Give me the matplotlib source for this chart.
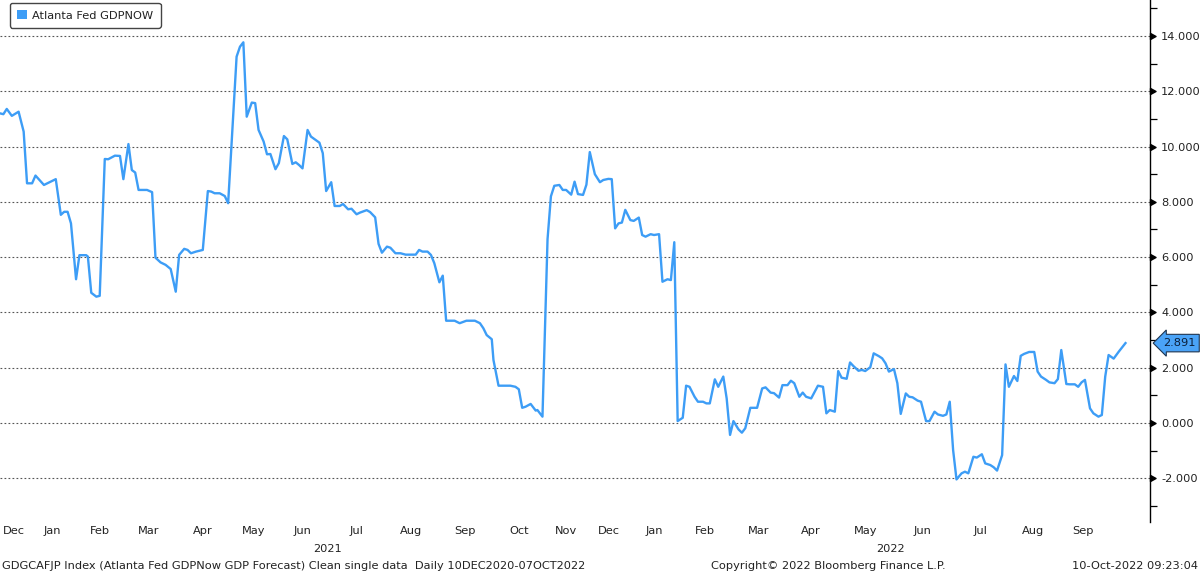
import matplotlib
matplotlib.use("Agg")
import matplotlib.pyplot as plt
import matplotlib.transforms as mtrans
from matplotlib.patches import Patch
from matplotlib.path import Path
from matplotlib.ticker import MultipleLocator, FuncFormatter
import pandas as pd

# ---------------- data ----------------
dates = [
    "2020-12-10", "2020-12-12", "2020-12-14", "2020-12-17", "2020-12-21", "2020-12-24",
    "2020-12-26", "2020-12-29", "2020-12-31", "2021-01-05", "2021-01-09", "2021-01-12",
    "2021-01-15", "2021-01-17", "2021-01-19", "2021-01-21", "2021-01-24", "2021-01-26",
    "2021-01-30", "2021-01-31", "2021-02-02", "2021-02-05", "2021-02-07", "2021-02-10",
    "2021-02-12", "2021-02-16", "2021-02-19", "2021-02-21", "2021-02-24", "2021-02-26",
    "2021-02-28", "2021-03-02", "2021-03-07", "2021-03-10", "2021-03-12", "2021-03-15",
    "2021-03-18", "2021-03-21", "2021-03-24", "2021-03-26", "2021-03-29", "2021-03-31",
    "2021-04-02", "2021-04-05", "2021-04-09", "2021-04-12", "2021-04-14", "2021-04-16",
    "2021-04-19", "2021-04-22", "2021-04-24", "2021-04-29", "2021-05-01", "2021-05-03",
    "2021-05-05", "2021-05-08", "2021-05-10", "2021-05-12", "2021-05-15", "2021-05-17",
    "2021-05-19", "2021-05-22", "2021-05-24", "2021-05-27", "2021-05-29", "2021-06-01",
    "2021-06-03", "2021-06-05", "2021-06-07", "2021-06-10", "2021-06-12", "2021-06-17",
    "2021-06-19", "2021-06-21", "2021-06-24", "2021-06-26", "2021-06-29", "2021-07-01",
    "2021-07-04", "2021-07-06", "2021-07-09", "2021-07-11", "2021-07-15", "2021-07-17",
    "2021-07-20", "2021-07-22", "2021-07-24", "2021-07-27", "2021-07-29", "2021-08-01",
    "2021-08-04", "2021-08-07", "2021-08-13", "2021-08-15", "2021-08-17", "2021-08-20",
    "2021-08-22", "2021-08-24", "2021-08-27", "2021-08-29", "2021-08-31", "2021-09-05",
    "2021-09-08", "2021-09-12", "2021-09-17", "2021-09-20", "2021-09-22", "2021-09-24",
    "2021-09-27", "2021-09-28", "2021-10-01", "2021-10-08", "2021-10-11", "2021-10-13",
    "2021-10-15", "2021-10-17", "2021-10-20", "2021-10-23", "2021-10-24", "2021-10-27",
    "2021-10-30", "2021-11-01", "2021-11-03", "2021-11-06", "2021-11-08", "2021-11-10",
    "2021-11-13", "2021-11-15", "2021-11-17", "2021-11-20", "2021-11-22", "2021-11-24",
    "2021-11-27", "2021-11-30", "2021-12-02", "2021-12-05", "2021-12-07", "2021-12-09",
    "2021-12-11", "2021-12-13", "2021-12-15", "2021-12-18", "2021-12-20", "2021-12-23",
    "2021-12-25", "2021-12-27", "2021-12-30", "2022-01-01", "2022-01-04", "2022-01-06",
    "2022-01-09", "2022-01-11", "2022-01-13", "2022-01-15", "2022-01-18", "2022-01-20",
    "2022-01-22", "2022-01-25", "2022-01-27", "2022-01-30", "2022-02-01", "2022-02-03",
    "2022-02-06", "2022-02-08", "2022-02-11", "2022-02-13", "2022-02-15", "2022-02-17",
    "2022-02-20", "2022-02-22", "2022-02-24", "2022-02-27", "2022-03-03", "2022-03-06",
    "2022-03-08", "2022-03-11", "2022-03-13", "2022-03-16", "2022-03-18", "2022-03-21",
    "2022-03-23", "2022-03-25", "2022-03-28", "2022-03-30", "2022-04-01", "2022-04-04",
    "2022-04-08", "2022-04-11", "2022-04-13", "2022-04-15", "2022-04-18", "2022-04-20",
    "2022-04-22", "2022-04-25", "2022-04-27", "2022-04-29", "2022-05-02", "2022-05-04",
    "2022-05-06", "2022-05-09", "2022-05-11", "2022-05-14", "2022-05-16", "2022-05-18",
    "2022-05-20", "2022-05-23", "2022-05-25", "2022-05-27", "2022-05-30", "2022-06-01",
    "2022-06-03", "2022-06-06", "2022-06-08", "2022-06-11", "2022-06-13", "2022-06-16",
    "2022-06-18", "2022-06-21", "2022-06-23", "2022-06-25", "2022-06-27", "2022-06-29",
    "2022-07-02", "2022-07-04", "2022-07-06", "2022-07-09", "2022-07-11", "2022-07-14",
    "2022-07-16", "2022-07-19", "2022-07-21", "2022-07-23", "2022-07-26", "2022-07-28",
    "2022-07-30", "2022-08-02", "2022-08-04", "2022-08-06", "2022-08-08", "2022-08-11",
    "2022-08-14", "2022-08-16", "2022-08-18", "2022-08-21", "2022-08-23", "2022-08-26",
    "2022-08-28", "2022-08-30", "2022-09-02", "2022-09-04", "2022-09-07", "2022-09-09",
    "2022-09-11", "2022-09-13", "2022-09-16", "2022-09-18", "2022-09-21", "2022-09-23",
    "2022-09-25", "2022-09-27", "2022-09-30", "2022-10-03", "2022-10-07",
]
gdpnow = [
    11.20, 11.17, 11.36, 11.11, 11.26, 10.54,
    8.67, 8.67, 8.95, 8.61, 8.73, 8.82,
    7.53, 7.64, 7.64, 7.22, 5.20, 6.07,
    6.07, 6.02, 4.71, 4.57, 4.60, 9.55,
    9.54, 9.67, 9.66, 8.82, 10.09, 9.15,
    9.06, 8.43, 8.43, 8.35, 5.98, 5.81,
    5.72, 5.57, 4.75, 6.08, 6.30, 6.26,
    6.14, 6.20, 6.26, 8.39, 8.37, 8.31,
    8.31, 8.21, 7.95, 13.25, 13.61, 13.77,
    11.08, 11.59, 11.57, 10.60, 10.18, 9.72,
    9.73, 9.18, 9.40, 10.38, 10.26, 9.37,
    9.43, 9.33, 9.21, 10.60, 10.36, 10.14,
    9.76, 8.39, 8.71, 7.85, 7.85, 7.92,
    7.73, 7.75, 7.55, 7.61, 7.70, 7.63,
    7.44, 6.48, 6.16, 6.38, 6.34, 6.14,
    6.14, 6.09, 6.09, 6.26, 6.20, 6.20,
    6.08, 5.78, 5.09, 5.33, 3.70, 3.70,
    3.61, 3.70, 3.70, 3.61, 3.43, 3.18,
    3.03, 2.28, 1.35, 1.35, 1.31, 1.22,
    0.55, 0.59, 0.69, 0.45, 0.47, 0.23,
    6.65, 8.20, 8.58, 8.61, 8.43, 8.43,
    8.26, 8.73, 8.28, 8.25, 8.62, 9.80,
    9.00, 8.71, 8.79, 8.83, 8.82, 7.04,
    7.22, 7.25, 7.71, 7.34, 7.31, 7.43,
    6.80, 6.74, 6.83, 6.80, 6.83, 5.11,
    5.20, 5.17, 6.54, 0.07, 0.19, 1.35,
    1.31, 0.95, 0.77, 0.77, 0.71, 0.71,
    1.58, 1.31, 1.68, 0.89, -0.43, 0.07,
    -0.23, -0.35, -0.19, 0.55, 0.55, 1.25,
    1.29, 1.10, 1.08, 0.92, 1.37, 1.37,
    1.53, 1.44, 0.95, 1.10, 0.95, 0.89,
    1.35, 1.31, 0.35, 0.47, 0.41, 1.88,
    1.64, 1.60, 2.19, 2.06, 1.89, 1.92,
    1.88, 2.02, 2.52, 2.42, 2.34, 2.16,
    1.86, 1.95, 1.44, 0.33, 1.07, 0.95,
    0.93, 0.81, 0.77, 0.07, 0.07, 0.41,
    0.31, 0.26, 0.31, 0.77, -0.98, -2.04,
    -1.82, -1.76, -1.82, -1.22, -1.25, -1.13,
    -1.46, -1.52, -1.60, -1.72, -1.16, 2.12,
    1.31, 1.70, 1.52, 2.43, 2.50, 2.57,
    2.57, 1.86, 1.68, 1.56, 1.47, 1.44,
    1.59, 2.64, 1.41, 1.40, 1.40, 1.31,
    1.47, 1.56, 0.53, 0.35, 0.23, 0.29,
    1.68, 2.46, 2.33, 2.58, 2.891,
]
series_name = "Atlanta Fed GDPNOW"
last_value_label = "2.891"
month_names = ["Dec", "Jan", "Feb", "Mar", "Apr", "May", "Jun", "Jul", "Aug", "Sep",
               "Oct", "Nov", "Dec", "Jan", "Feb", "Mar", "Apr", "May", "Jun", "Jul",
               "Aug", "Sep"]
month_label_dates = ["2020-12-18", "2021-01-10", "2021-02-07", "2021-03-08", "2021-04-09",
                     "2021-05-09", "2021-06-07", "2021-07-09", "2021-08-10", "2021-09-11",
                     "2021-10-13", "2021-11-10", "2021-12-05", "2022-01-01", "2022-01-31",
                     "2022-03-04", "2022-04-04", "2022-05-06", "2022-06-09", "2022-07-13",
                     "2022-08-13", "2022-09-12"]
year_labels = ["2021", "2022"]
year_label_dates = ["2021-06-22", "2022-05-21"]
footer_left = ("GDGCAFJP Index (Atlanta Fed GDPNow GDP Forecast) Clean single data  "
               "Daily 10DEC2020-07OCT2022")
footer_mid = "Copyright\u00a9 2022 Bloomberg Finance L.P."
footer_right = "10-Oct-2022 09:23:04"

# ---------------- figure ----------------
plt.rcParams["font.family"] = ["DejaVu Sans"]
FS = 8.2
TXT = "#222222"
BLUE = "#3d9df6"

W, H = 1200, 574
fig = plt.figure(figsize=(W / 100, H / 100), dpi=100)
ax = fig.add_axes([0, 1 - 522 / H, 1150 / W, 522 / H])

x = pd.to_datetime(dates)
ax.plot(x, gdpnow, color=BLUE, lw=1.7, solid_joinstyle="round", zorder=3)

x_start = pd.Timestamp("2020-12-10")
x_end = pd.Timestamp("2022-10-21 12:00")
ax.set_xlim(x_start, x_end)
ax.set_ylim(-3.58, 15.30)

for s in ["left", "top", "bottom"]:
    ax.spines[s].set_visible(False)
ax.spines["right"].set_color("black")
ax.spines["right"].set_linewidth(1.0)

# y axis on the right
ax.yaxis.tick_right()
ax.yaxis.set_major_locator(MultipleLocator(2))
ax.yaxis.set_minor_locator(MultipleLocator(1))
ax.yaxis.set_major_formatter(FuncFormatter(lambda v, p: f"{v:.3f}"))
ax.tick_params(axis="y", which="major", length=0, pad=8, labelsize=FS, labelcolor=TXT)
ax.tick_params(axis="y", which="minor", length=5, width=0.9, color="black", direction="out")
ax.yaxis.grid(True, which="major", linestyle=(0, (1.6, 2.0)), color="#555555", lw=0.8)
ax.set_axisbelow(True)

# arrow-shaped major ticks
tri = Path([(0, -0.55), (1.0, 0), (0, 0.55), (0, -0.55)],
           [Path.MOVETO, Path.LINETO, Path.LINETO, Path.CLOSEPOLY])
trans_ay = mtrans.blended_transform_factory(ax.transAxes, ax.transData)
lo, hi = ax.get_ylim()
for v in ax.yaxis.get_majorticklocs():
    if lo <= v <= hi:
        ax.plot([1.0], [v], marker=tri, ms=8, color="black", mec="black",
                transform=trans_ay, clip_on=False, zorder=5)

# month labels
ax.set_xticks(pd.to_datetime(month_label_dates))
ax.set_xticklabels(month_names)
ax.tick_params(axis="x", which="both", length=0, pad=3, labelsize=FS, labelcolor=TXT)
ax.xaxis.set_minor_locator(plt.NullLocator())

# year labels
trans_xf = mtrans.blended_transform_factory(ax.transData, fig.transFigure)
for yl, xp in zip(year_labels, pd.to_datetime(year_label_dates)):
    ax.text(xp, 1 - 549 / H, yl, transform=trans_xf, ha="center", va="center",
            fontsize=FS, color=TXT)

# footer
fy = 1 - 566 / H
fig.text(2 / W, fy, footer_left, ha="left", va="center", fontsize=FS, color=TXT)
fig.text(828 / W, fy, footer_mid, ha="center", va="center", fontsize=FS, color=TXT)
fig.text(1198 / W, fy, footer_right, ha="right", va="center", fontsize=FS, color=TXT)

# last value tag
tag_trans = mtrans.offset_copy(trans_ay, fig=fig, x=13, y=0, units="dots")
ax.text(1.0, gdpnow[-1], last_value_label, transform=tag_trans, ha="left", va="center",
        fontsize=FS, color="#0b1f3a", clip_on=False, zorder=6,
        bbox=dict(boxstyle="larrow,pad=0.33", fc="#4aa3f7", ec="#1f3550", lw=0.8))

# legend
handle = Patch(facecolor=BLUE, edgecolor="none")
leg = fig.legend([handle], [series_name], loc="upper left",
                 bbox_to_anchor=(10 / W, 1 - 3 / H), bbox_transform=fig.transFigure,
                 frameon=True, fancybox=True, handlelength=0.85, handleheight=0.85,
                 handletextpad=0.5, borderpad=0.62, borderaxespad=0, fontsize=FS)
fr = leg.get_frame()
fr.set_edgecolor("#444444")
fr.set_linewidth(1.0)
fr.set_facecolor("white")
fr.set_alpha(1)
for t in leg.get_texts():
    t.set_color(TXT)

fig.savefig("out.png", dpi=100)
